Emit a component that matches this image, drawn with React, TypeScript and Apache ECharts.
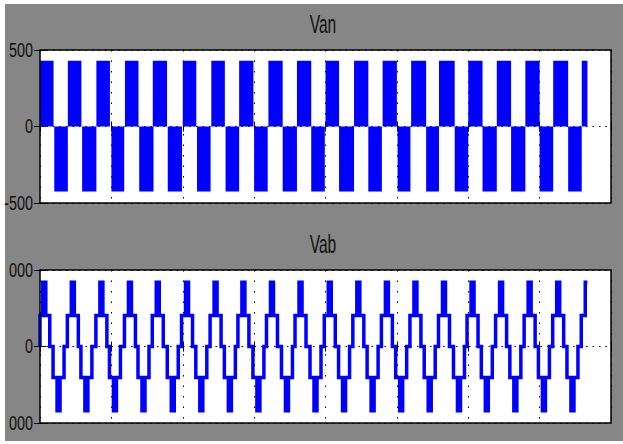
import React, { useEffect, useRef } from 'react';
import * as echarts from 'echarts';

// Time axis in ms
const timeMin = 0;
const timeMax = 80;
const timeInterval = 10;

// Van: chopped blocks, [start ms, end ms]
const vanPosBlocks = [
  [0, 1.9], [3.9, 5.8], [7.9, 9.8], [11.9, 13.8], [15.8, 17.8], [20.0, 21.9], [24.0, 25.9],
  [27.9, 29.9], [32.0, 34.0], [36.0, 38.0], [40.0, 41.9], [44.0, 46.0], [48.0, 50.0],
  [52.0, 54.1], [55.9, 58.1], [60.0, 62.0], [64.0, 66.0], [68.0, 70.0], [71.9, 74.0], [75.9, 76.7],
];
const vanNegBlocks = [
  [2.0, 3.9], [5.9, 7.9], [10.0, 11.8], [13.9, 15.9], [17.9, 19.9], [22.0, 23.9], [26.0, 27.9],
  [30.0, 31.9], [34.0, 36.0], [38.0, 39.9], [41.9, 44.0], [46.0, 47.9], [50.1, 51.9],
  [54.1, 55.9], [58.1, 60.0], [62.0, 64.0], [66.0, 68.0], [70.0, 71.9], [74.0, 75.9],
];
const vanPosLevel = 430;
const vanNegLevel = -425;

// Vab: stepped line-voltage humps (centre times in ms)
const vabPosCenters = [0.6, 4.6, 8.6, 12.6, 16.5, 20.6, 24.6, 28.5, 32.5, 36.5, 40.6, 44.6, 48.6, 52.6, 56.6, 60.6, 64.6, 68.6, 72.6, 76.6];
const vabNegCenters = [2.6, 6.5, 10.5, 14.5, 18.6, 22.6, 26.6, 30.6, 34.6, 38.6, 42.6, 46.6, 50.6, 54.6, 58.7, 62.6, 66.6, 70.6, 74.6];
const vabMidLevel = 405;
const vabPeakLevel = 840;
const vabStepHalfWidth = 0.77;
const vabPeakHalfWidth = 0.21;
const vabEnd = 76.7;

// Y ticks and their (visible) labels
const vanTicks = [500, 0, -500];
const vanTickLabels = ['500', '0', '-500'];
const vabTicks = [1000, 0, -1000];
const vabTickLabels = ['000', '0', '000'];

const titles = ['Van', 'Vab'];

function buildVab(): number[][] {
  const humps = [
    ...vabPosCenters.map((c) => ({ c, s: 1 })),
    ...vabNegCenters.map((c) => ({ c, s: -1 })),
  ].sort((a, b) => a.c - b.c);
  const pts: number[][] = [[0, 0]];
  for (const { c, s } of humps) {
    pts.push(
      [c - vabStepHalfWidth, 0],
      [c - vabStepHalfWidth, s * vabMidLevel],
      [c - vabPeakHalfWidth, s * vabMidLevel],
      [c - vabPeakHalfWidth, s * vabPeakLevel],
      [c + vabPeakHalfWidth, s * vabPeakLevel],
      [c + vabPeakHalfWidth, s * vabMidLevel],
      [c + vabStepHalfWidth, s * vabMidLevel],
      [c + vabStepHalfWidth, 0],
    );
  }
  const out: number[][] = [];
  for (const [t, v] of pts) {
    const tc = Math.max(0, t);
    if (tc > vabEnd) {
      out.push([vabEnd, out[out.length - 1][1]]);
      break;
    }
    out.push([tc, v]);
  }
  return out;
}

const FONT = "'Liberation Sans', Arial, sans-serif";
const GRID_LEFT = 40;
const GRID_WIDTH = 571;
const GRID_HEIGHT = 153;
const GRID_TOPS = [50, 270];
const TITLE_Y = [23.5, 243.5];

export default function App() {
  const ref = useRef<HTMLDivElement>(null);
  useEffect(() => {
    if (!ref.current) return;
    const chart = echarts.init(ref.current, undefined, { renderer: 'svg' });

    const xAx = (gridIndex: number, position: string, split: boolean) => ({
      type: 'value',
      gridIndex,
      position,
      min: timeMin,
      max: timeMax,
      interval: timeInterval,
      axisLine: { show: false },
      axisTick: { show: true, inside: true, length: 5, lineStyle: { color: '#000', width: 1 } },
      axisLabel: { show: false },
      splitLine: { show: split, lineStyle: { color: '#000', width: 1, type: [1.5, 9] } },
    });
    const yAx = (gridIndex: number, position: string, split: boolean, lim: number) => ({
      type: 'value',
      gridIndex,
      position,
      min: -lim,
      max: lim,
      interval: lim,
      axisLine: { show: false },
      axisTick: { show: true, inside: true, length: 6, lineStyle: { color: '#000', width: 1 } },
      axisLabel: { show: false },
      splitLine: { show: split, lineStyle: { color: '#000', width: 1, type: [1.5, 5] } },
    });

    const vanData = [
      ...vanPosBlocks.map(([s, e]) => [s, e, vanPosLevel]),
      ...vanNegBlocks.map(([s, e]) => [s, e, vanNegLevel]),
    ];

    chart.setOption({
      animation: false,
      backgroundColor: 'transparent',
      grid: GRID_TOPS.map((top) => ({
        left: GRID_LEFT,
        top,
        width: GRID_WIDTH,
        height: GRID_HEIGHT,
        show: true,
        backgroundColor: '#ffffff',
        borderWidth: 0,
      })),
      xAxis: [xAx(0, 'bottom', true), xAx(0, 'top', false), xAx(1, 'bottom', true), xAx(1, 'top', false)],
      yAxis: [
        yAx(0, 'left', true, vanTicks[0]),
        yAx(0, 'right', false, vanTicks[0]),
        yAx(1, 'left', true, vabTicks[0]),
        yAx(1, 'right', false, vabTicks[0]),
      ],
      series: [
        {
          type: 'custom',
          xAxisIndex: 0,
          yAxisIndex: 0,
          clip: true,
          encode: { x: [0, 1], y: 2 },
          data: vanData,
          renderItem: (params: any, api: any) => {
            const p0 = api.coord([api.value(0), 0]);
            const p1 = api.coord([api.value(1), api.value(2)]);
            return {
              type: 'rect',
              shape: {
                x: p0[0],
                y: Math.min(p0[1], p1[1]),
                width: p1[0] - p0[0],
                height: Math.abs(p1[1] - p0[1]),
              },
              style: { fill: '#0000ff' },
            };
          },
        },
        {
          type: 'line',
          xAxisIndex: 2,
          yAxisIndex: 2,
          data: buildVab(),
          showSymbol: false,
          symbol: 'none',
          smooth: false,
          clip: true,
          lineStyle: { color: '#0000ff', width: 3.5, join: 'miter', cap: 'butt' },
        },
      ],
    });

    const graphics: any[] = [];
    GRID_TOPS.forEach((top) => {
      graphics.push({
        type: 'rect',
        silent: true,
        z: 100,
        shape: { x: GRID_LEFT, y: top, width: GRID_WIDTH, height: GRID_HEIGHT },
        style: { fill: 'none', stroke: '#000', lineWidth: 1.5 },
      });
    });
    titles.forEach((t, i) => {
      graphics.push({
        type: 'text',
        z: 100,
        x: 323,
        y: TITLE_Y[i],
        scaleX: 0.82,
        scaleY: 1.35,
        style: {
          text: t,
          fontSize: 19,
          fontFamily: FONT,
          fill: '#111',
          align: 'center',
          verticalAlign: 'middle',
          textAlign: 'center',
          textVerticalAlign: 'middle',
        },
      });
    });
    const addLabels = (gridIndex: number, ticks: number[], labels: string[]) => {
      ticks.forEach((v, k) => {
        const p = chart.convertToPixel({ gridIndex }, [0, v]) as number[];
        graphics.push({
          type: 'text',
          z: 100,
          x: 33,
          y: p[1],
          scaleX: 0.8,
          scaleY: 1.16,
          style: {
            text: labels[k],
            fontSize: 18,
            fontFamily: FONT,
            fill: '#111',
            align: 'right',
            verticalAlign: 'middle',
            textAlign: 'right',
            textVerticalAlign: 'middle',
          },
        });
      });
    };
    addLabels(0, vanTicks, vanTickLabels);
    addLabels(1, vabTicks, vabTickLabels);
    chart.setOption({ graphic: graphics });

    return () => chart.dispose();
  }, []);

  return (
    <div style={{ position: 'fixed', left: 0, top: 0, width: 623, height: 444, background: '#ffffff' }}>
      <div style={{ position: 'absolute', left: 5, top: 4, width: 618, height: 437, background: '#868686' }} />
      <div ref={ref} style={{ position: 'absolute', left: 0, top: 0, width: 623, height: 444 }} />
    </div>
  );
}
